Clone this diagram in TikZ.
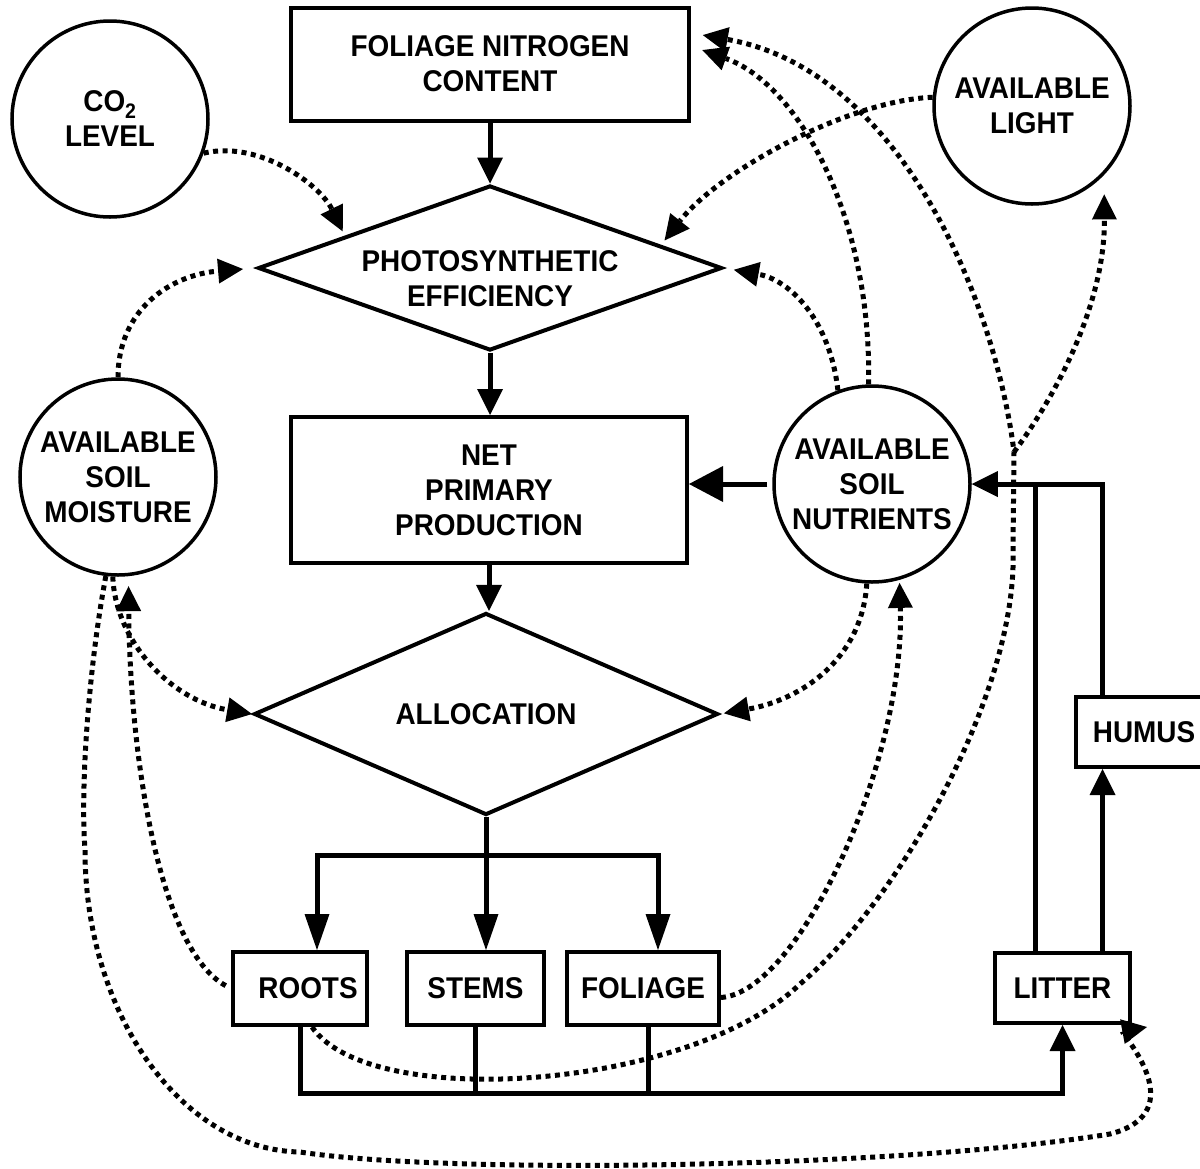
\documentclass[tikz,border=0pt]{standalone}
\usepackage{fontspec}
\setmainfont{Liberation Sans}[FakeStretch=0.93]
\usetikzlibrary{arrows.meta,shapes.geometric,calc}
\begin{document}
\begin{tikzpicture}[x=1pt,y=-1pt,
  every node/.style={font=\fontsize{30}{35}\selectfont\bfseries, align=center},
  box/.style={draw, line width=4pt, rectangle, inner sep=0pt},
  circ/.style={draw, circle, line width=3.5pt, minimum size=196pt, inner sep=0pt},
  dia/.style={draw, diamond, line width=4pt, inner sep=0pt},
  conn/.style={line width=5pt},
  tip/.style={-{Triangle[length=26pt,width=26pt,line width=0pt]}},
  longtip/.style={-{Triangle[length=36pt,width=25pt,line width=0pt]}},
  bigtip/.style={-{Triangle[length=34pt,width=36pt,line width=0pt]}},
  dot/.style={line width=5pt, dash pattern=on 5pt off 4.5pt, -{Triangle[length=25pt,width=25pt,line width=0pt]}},
]
\useasboundingbox (0,0) rectangle (1200,1168);

% nodes
\node[box, minimum width=398pt, minimum height=113pt] (fnc) at (490,64) {FOLIAGE NITROGEN\\CONTENT};
\node[dia, minimum width=464pt, minimum height=165pt] (ps) at (490,268) {};
\node (pst) at (490,279) {PHOTOSYNTHETIC\\EFFICIENCY};
\node[box, minimum width=396pt, minimum height=146pt] (npp) at (489,490) {NET\\PRIMARY\\PRODUCTION};
\node[dia, minimum width=464pt, minimum height=166pt] (alloc) at (486,714) {ALLOCATION};

\node[circ] (co2) at (110,119) {CO\textsubscript{2}\\LEVEL};
\node[circ] (light) at (1032,106) {AVAILABLE\\LIGHT};
\node[circ] (moist) at (118,477) {AVAILABLE\\SOIL\\MOISTURE};
\node[circ] (nutr) at (872,484) {AVAILABLE\\SOIL\\NUTRIENTS};

\node[box, minimum width=134pt, minimum height=73pt] (roots) at (300,988.5) {\hspace*{16pt}ROOTS};
\node[box, minimum width=137pt, minimum height=73pt] (stems) at (475.5,988.5) {STEMS};
\node[box, minimum width=152pt, minimum height=73pt] (foliage) at (643,988.5) {FOLIAGE};
\node[box, minimum width=135pt, minimum height=70pt] (litter) at (1062.5,988) {LITTER};
\node[box, minimum width=136pt, minimum height=70pt] (humus) at (1144,732) {HUMUS};

% solid connectors
\draw[conn,tip] (fnc.south) -- (ps.north);
\draw[conn,tip] (ps.south) -- (ps.south |- npp.north);
\draw[conn,bigtip,shorten <=5pt] (nutr.west) -- (npp.east |- nutr.west);
\draw[conn,tip] (npp.south) -- (npp.south |- alloc.north);

\coordinate (asplit) at (486,855);
\draw[conn] (alloc.south) -- (asplit);
\draw[conn,longtip] (asplit) -| ([xshift=17pt]roots.north);
\draw[conn,longtip] (asplit) -| ([xshift=15pt]foliage.north);
\draw[conn,longtip] (asplit) -- (asplit |- stems.north);

\coordinate (busend) at (1062.5,1093);
\draw[conn,tip] (roots.south) |- (busend) -- (litter.south);
\draw[conn] (stems.south) -- (stems.south |- busend);
\draw[conn] ([xshift=5pt]foliage.south) -- ([xshift=5pt]foliage.south |- busend);

\coordinate (litR) at ([xshift=40pt]litter.north);
\coordinate (litL) at ([xshift=-27pt]litter.north);
\draw[conn,tip] (litR) -- (litR |- humus.south);
\draw[conn,tip] (litR |- humus.north) |- (nutr.east);
\draw[conn] (litL) -- (litL |- nutr.east);

% dotted influences
\draw[dot,shorten >=5pt] (co2.-20) .. controls (260,140) and (320,185) .. ($(ps.west)!0.38!(ps.north)$);
\draw[dot,shorten >=6pt] (light.175) .. controls (850,100) and (720,170) .. ($(ps.east)!0.27!(ps.north)$);
\draw[dot,shorten >=13pt] (moist.north) .. controls (118,310) and (170,275) .. (ps.west);
\draw[dot,shorten >=10pt] (nutr.110) .. controls (830,320) and (790,280) .. (ps.east);
\draw[dot,shorten >=12pt] (nutr.92) .. controls (872,220) and (800,85) .. ([yshift=18pt]fnc.east);

\coordinate (lsplit) at (1014,452);
\draw[dot,shorten >=12pt] ([xshift=12pt]roots.south) .. controls (370,1112) and (690,1090) .. (800,984)
   .. controls (900,900) and (1018,690) .. (1013,550) -- (lsplit)
   .. controls (995,300) and (900,70) .. ([yshift=31pt]fnc.east);
\draw[dot,shorten >=12pt] (lsplit) .. controls (1060,390) and (1105,300) .. ([xshift=8pt]light.-50);

\draw[dot,shorten >=3pt] ([yshift=-9pt]foliage.east) .. controls (800,992) and (905,760) .. (nutr.-74);
\draw[dot,shorten >=4pt] (nutr.-93) .. controls (862,660) and (800,700) .. (alloc.east);
\draw[dot] (moist.-93) .. controls (115,640) and (170,700) .. (alloc.west);
\draw[dot,shorten <=6pt,shorten >=10pt] (roots.west) .. controls (160,950) and (130,760) .. (moist.-84);
\draw[dot] (moist.-97) .. controls (90,660) and (80,780) .. (85,850)
   .. controls (85,1013) and (181,1150) .. (300,1152)
   .. controls (450,1175) and (900,1168) .. (1110,1134)
   .. controls (1195,1112) and (1120,1032) .. ([shift={(15pt,-2pt)}]litter.south east);
\end{tikzpicture}
\end{document}
